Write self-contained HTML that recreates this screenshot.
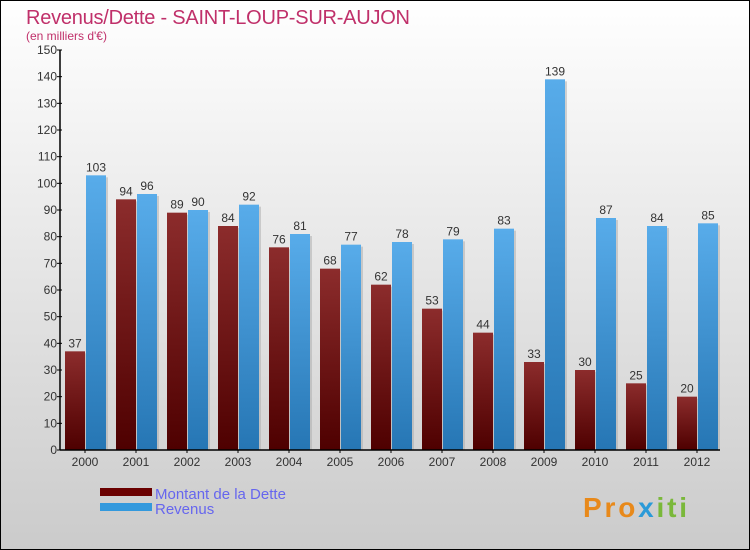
<!DOCTYPE html>
<html><head><meta charset="utf-8"><style>
body{margin:0;width:750px;height:550px;overflow:hidden}
svg{display:block;font-family:"Liberation Sans",sans-serif}
</style></head><body>
<svg id="chart" width="750" height="550">
<defs>
<linearGradient id="bg" x1="0" y1="0" x2="0" y2="1"><stop offset="0" stop-color="#ffffff"/><stop offset="1" stop-color="#cbcbcb"/></linearGradient>
<linearGradient id="gd" x1="0" y1="0" x2="0" y2="1"><stop offset="0" stop-color="#8c2c2c"/><stop offset="1" stop-color="#4e0000"/></linearGradient>
<linearGradient id="gr" x1="0" y1="0" x2="0" y2="1"><stop offset="0" stop-color="#58acea"/><stop offset="1" stop-color="#2676b4"/></linearGradient>
</defs>
<rect x="0.5" y="0.5" width="749" height="549" fill="url(#bg)" stroke="#000"/>
<text x="26" y="24" font-size="20" fill="#c0306a" textLength="384">Revenus/Dette - SAINT-LOUP-SUR-AUJON</text>
<text x="26" y="40" font-size="12" fill="#c0306a">(en milliers d'€)</text>
<g id="bars"></g>
<g id="axes"></g>
<rect x="100" y="488" width="52" height="8" fill="#6a0000"/>
<rect x="100" y="503" width="52" height="8" fill="#3399dd"/>
<text x="155" y="499" font-size="15" fill="#6666ee">Montant de la Dette</text>
<text x="155" y="514" font-size="15" fill="#6666ee">Revenus</text>
<text x="583" y="517" font-size="28" font-weight="bold" fill="#e8891a" textLength="104">Pro<tspan fill="#2a9ad8">x</tspan><tspan fill="#7ab83a">iti</tspan></text>
</svg>
<script>
const years=["2000","2001","2002","2003","2004","2005","2006","2007","2008","2009","2010","2011","2012"];
const dette=[37,94,89,84,76,68,62,53,44,33,30,25,20];
const revenus=[103,96,90,92,81,77,78,79,83,139,87,84,85];
const yTicks=[0,10,20,30,40,50,60,70,80,90,100,110,120,130,140,150];
const NS="http://www.w3.org/2000/svg";
const x0=60,y0=450,yTop=50,yMax=150,step=51,firstCenter=85;
const y=v=>y0-(v/yMax)*(y0-yTop);
const xc=i=>firstCenter+i*step;
function mk(tag,attrs,parent){const e=document.createElementNS(NS,tag);for(const k in attrs)e.setAttribute(k,attrs[k]);parent.appendChild(e);return e;}
const bars=document.getElementById('bars'),axes=document.getElementById('axes');
years.forEach((yr,i)=>{
  const c=xc(i);
  [[dette[i],c-20,'url(#gd)','dette'],[revenus[i],c+1,'url(#gr)','revenus']].forEach(([v,x,f,n])=>{
    const s=mk('rect',{x:x+2,y:y(v)+2,width:20,height:y0-y(v)-2,fill:'#aaa',opacity:0.5},bars);
    
    
    const r=mk('rect',{x:x,y:y(v),width:20,height:y0-y(v),fill:f},bars);
    
    
    const t=mk('text',{x:x+10,y:y(v)-4,'font-size':12,fill:'#333','text-anchor':'middle'},bars);
    t.textContent=v;
    
    
  });
  const tl=mk('text',{x:c,y:466,'font-size':12,fill:'#333','text-anchor':'middle'},axes);
  tl.textContent=yr;
  
  
  const tk=mk('line',{x1:c,x2:c,y1:y0,y2:y0+3,stroke:'#000'},axes);
  
  
});
yTicks.forEach(v=>{
  const l=mk('line',{x1:x0-3,x2:x0+2,y1:y(v),y2:y(v),stroke:'#000'},axes);
  
  
  const t=mk('text',{x:x0-3,y:y(v)+4,'font-size':12,fill:'#333','text-anchor':'end'},axes);
  t.textContent=v;
  
  
});
const ya=mk('line',{x1:x0,x2:x0,y1:yTop,y2:y0,stroke:'#000','stroke-width':1.5},axes);


const xa=mk('line',{x1:x0,x2:720,y1:y0,y2:y0,stroke:'#000','stroke-width':1.5},axes);


</script>
</body></html>
